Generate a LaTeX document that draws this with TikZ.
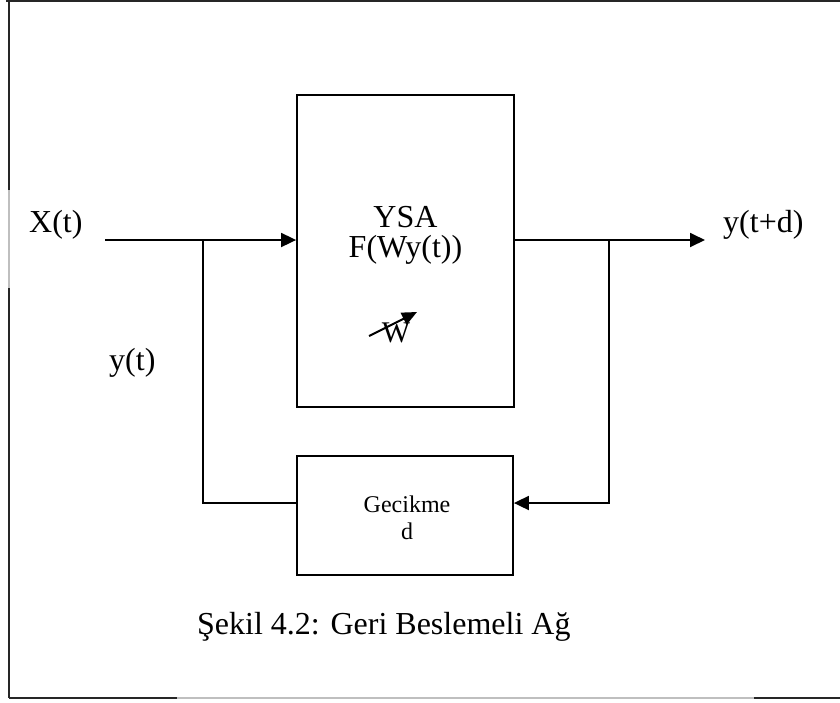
\documentclass[tikz,border=0pt]{standalone}
\usepackage{fontspec}
\setmainfont{Liberation Serif}
\usetikzlibrary{arrows.meta}
\begin{document}
\begin{tikzpicture}[x=1pt,y=-1pt,
  wire/.style={line width=1.8pt},
  tip/.style={-{Triangle[length=15pt,width=14pt]}},
  blk/.style={draw,line width=1.8pt,inner sep=0pt,rectangle},
  big/.style={font=\fontsize{32}{38}\selectfont,inner sep=0pt},
  small/.style={font=\fontsize{24}{28}\selectfont,inner sep=0pt},
  framedark/.style={line width=1.6pt,black!85},
  framegray/.style={line width=1.6pt,black!25}]
\useasboundingbox (0,0) rectangle (840,702);
% frame
\draw[framedark] (6,1) -- (840,1);
\draw[framedark] (9,1) -- (9,698);
\draw[framegray] (9,190) -- (9,288);
\draw[framedark] (9,698) -- (177,698);
\draw[framegray] (177,698) -- (754,698);
\draw[framedark] (754,698) -- (840,698);
% blocks
\node[blk,minimum width=217pt,minimum height=312pt] (ysa) at (405.5,251) {};
\node[blk,minimum width=216pt,minimum height=119pt] (gec) at (405,515.5) {};
% coordinates
\coordinate (in) at (105,240);
\coordinate (j1) at (203,240);
\coordinate (j2) at (609,240);
\coordinate (out) at (705,240);
\coordinate (fb) at (405,503);
% connectors
\draw[wire,tip] (in) -- (in -| ysa.west);
\draw[wire,tip] (in -| ysa.east) -- (out);
\draw[wire] (j1) |- (fb -| gec.west);
\draw[wire,tip] (j2) |- (fb -| gec.east);
% adjustable weight arrow
\coordinate (wa) at (369,336);
\coordinate (wb) at (417,312);
\node[font=\fontsize{30}{34}\selectfont,inner sep=0pt,anchor=base] (wlab) at (396,342) {W};
\draw[line width=2pt,-{Triangle[length=15pt,width=13pt]}] (wa) -- (wb);
% labels
\node[big,anchor=base] (t1) at (405.5,227) {YSA};
\node[big,anchor=base] (t2) at (405.5,257) {F(Wy(t))};
\node[small,anchor=base] (g1) at (407,512) {Gecikme};
\node[small,anchor=base] (g2) at (407,539) {d};
\node[big,anchor=base west] (xt) at (29,232) {X(t)};
\node[big,anchor=base west] (ytd) at (723,232) {y(t+d)};
\node[big,anchor=base west] (yt) at (109,370) {y(t)};
\node[big,anchor=base west] (cap) at (197,634) {Şekil 4.2: Geri Beslemeli Ağ};
\end{tikzpicture}
\end{document}
